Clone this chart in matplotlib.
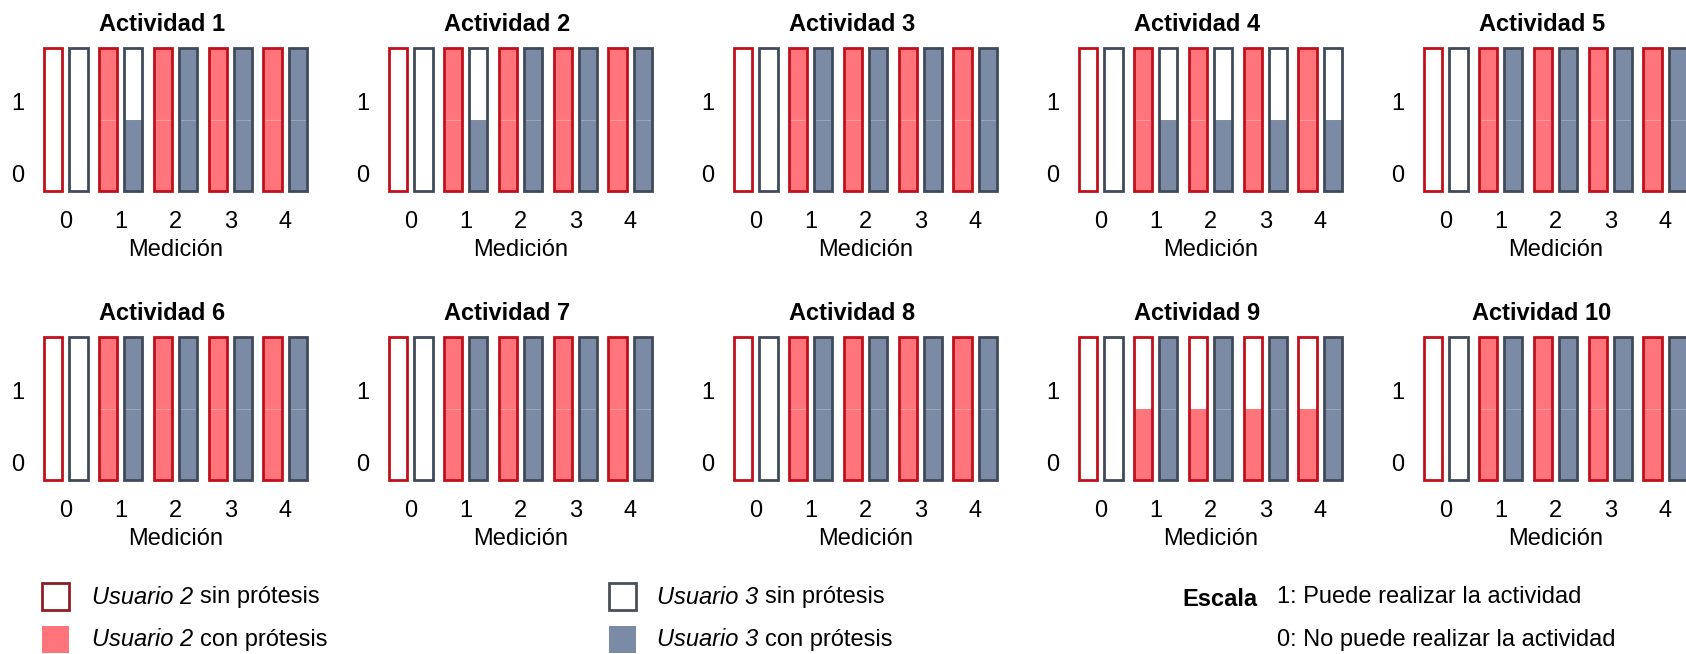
import matplotlib
matplotlib.use("Agg")
import matplotlib.pyplot as plt
from matplotlib.patches import Rectangle

plt.rcParams['font.family'] = ['Liberation Sans', 'DejaVu Sans']

# ---------------- data ----------------
actividades = [f"Actividad {i}" for i in range(1, 11)]
mediciones = [0, 1, 2, 3, 4]
y_ticks = [0, 1]
# filled part of each bar: 0 = sin prótesis (empty), 0.5 = lower half filled, 1 = fully filled
usuario2 = [
    [0, 1, 1, 1, 1],          # Actividad 1
    [0, 1, 1, 1, 1],          # Actividad 2
    [0, 1, 1, 1, 1],          # Actividad 3
    [0, 1, 1, 1, 1],          # Actividad 4
    [0, 1, 1, 1, 1],          # Actividad 5
    [0, 1, 1, 1, 1],          # Actividad 6
    [0, 1, 1, 1, 1],          # Actividad 7
    [0, 1, 1, 1, 1],          # Actividad 8
    [0, 0.5, 0.5, 0.5, 0.5],  # Actividad 9
    [0, 1, 1, 1, 1],          # Actividad 10
]
usuario3 = [
    [0, 0.5, 1, 1, 1],        # Actividad 1
    [0, 0.5, 1, 1, 1],        # Actividad 2
    [0, 1, 1, 1, 1],          # Actividad 3
    [0, 0.5, 0.5, 0.5, 0.5],  # Actividad 4
    [0, 1, 1, 1, 1],          # Actividad 5
    [0, 1, 1, 1, 1],          # Actividad 6
    [0, 1, 1, 1, 1],          # Actividad 7
    [0, 1, 1, 1, 1],          # Actividad 8
    [0, 1, 1, 1, 1],          # Actividad 9
    [0, 1, 1, 1, 1],          # Actividad 10
]

# ---------------- style ----------------
W, H = 1686, 654
RED_FILL, RED_EDGE, RED_SPLIT = "#FF757B", "#C0101C", "#FF9CA0"
BLUE_FILL, BLUE_EDGE, BLUE_SPLIT = "#7B8BA6", "#414A59", "#97A5BA"
FS = 17
BASE = -0.25     # bar baseline
SEG = 1.0        # height of each of the two stacked segments
BW = 0.33
OFF = 0.23

fig = plt.figure(figsize=(W / 100, H / 100), dpi=100)

ax_w = 274 / W
ax_h = 150 / H
lefts = [(38.5 + 345 * i) / W for i in range(5)]
bottoms = [1 - 194.8 / H, 1 - 483.8 / H]


def draw_bar(ax, x, fill_frac, fill_col, edge_col, split_col):
    lower = fill_col if fill_frac >= 0.5 else "white"
    upper = fill_col if fill_frac >= 1 else "white"
    ax.bar(x, SEG, BW, bottom=BASE, color=lower, edgecolor=split_col if fill_frac >= 1 else lower,
           linewidth=0.7, zorder=2)
    ax.bar(x, SEG, BW, bottom=BASE + SEG, color=upper, linewidth=0, zorder=1.5)
    ax.bar(x, 2 * SEG, BW, bottom=BASE, facecolor="none", edgecolor=edge_col,
           linewidth=2.0, zorder=3)


for k, nombre in enumerate(actividades):
    r, c = divmod(k, 5)
    ax = fig.add_axes([lefts[c], bottoms[r], ax_w, ax_h])
    for j, m in enumerate(mediciones):
        draw_bar(ax, m - OFF, usuario2[k][j], RED_FILL, RED_EDGE, RED_SPLIT)
        draw_bar(ax, m + OFF, usuario3[k][j], BLUE_FILL, BLUE_EDGE, BLUE_SPLIT)
    ax.set_xlim(-0.5, 4.5)
    ax.set_ylim(-0.3, 1.8)
    ax.set_xticks(mediciones)
    ax.set_xticklabels([str(m) for m in mediciones])
    ax.set_yticks(y_ticks)
    ax.tick_params(length=0, labelsize=FS)
    ax.tick_params(axis="x", pad=12)
    ax.tick_params(axis="y", pad=10)
    for s in ax.spines.values():
        s.set_visible(False)
    ax.set_xlabel("Medición", fontsize=FS, labelpad=4)
    ax.set_title(nombre, fontsize=FS, fontweight="bold", x=0.45, pad=10)

# ---------------- legend ----------------
def px(x, y):
    return x / W, 1 - y / H


def square(x, y, face, edge, lw):
    x0, y0 = px(x, y + 27)
    fig.add_artist(Rectangle((x0, y0), 27 / W, 27 / H, transform=fig.transFigure,
                             facecolor=face, edgecolor=edge, linewidth=lw))


square(42, 583, "white", "#8E1E26", 2.0)
square(42, 626, RED_FILL, "none", 0)
square(609, 583, "white", "#4A4F58", 2.0)
square(609, 626, BLUE_FILL, "none", 0)

renderer = fig.canvas.get_renderer()


def mixed(x, y, ital, rest):
    t = fig.text(*px(x, y), ital, fontsize=FS, style="italic", va="center", ha="left")
    bb = t.get_window_extent(renderer)
    fig.text((bb.x1 + 7) / W, 1 - y / H, rest, fontsize=FS, va="center", ha="left")


mixed(92, 597, "Usuario 2", "sin prótesis")
mixed(92, 640, "Usuario 2", "con prótesis")
mixed(657, 597, "Usuario 3", "sin prótesis")
mixed(657, 640, "Usuario 3", "con prótesis")

fig.text(*px(1182, 600), "Escala", fontsize=FS, fontweight="bold", va="center", ha="left")
fig.text(*px(1277, 597), "1: Puede realizar la actividad", fontsize=FS, va="center", ha="left")
fig.text(*px(1277, 640), "0: No puede realizar la actividad", fontsize=FS, va="center", ha="left")

fig.savefig("out.png", dpi=100, facecolor="white")
